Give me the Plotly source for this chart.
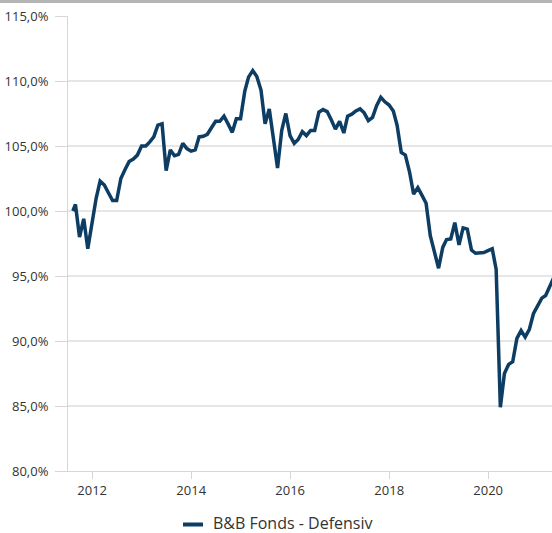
import pandas as pd
import plotly.graph_objects as go

# ---- data ----
start_date = ["2011-08-12"]
start_value = [100.0]
month_end_start = "2011-08-31"
values = [
    100.5, 98.0, 99.4, 97.1, 99.2,                       # 2011 Aug-Dec
    101.0, 102.3, 102.0, 101.4, 100.8, 100.8, 102.5, 103.2, 103.8, 104.0, 104.3, 105.0,  # 2012
    105.0, 105.3, 105.7, 106.6, 106.7, 103.1, 104.7, 104.25, 104.35, 105.2, 104.8, 104.6,  # 2013
    104.7, 105.7, 105.75, 105.9, 106.4, 106.9, 106.9, 107.3, 106.7, 106.05, 107.1, 107.1,  # 2014
    109.2, 110.3, 110.8, 110.35, 109.3, 106.7, 107.85, 105.5, 103.3, 106.2, 107.5, 105.8,  # 2015
    105.2, 105.5, 106.1, 105.8, 106.2, 106.2, 107.6, 107.8, 107.65, 107.0, 106.3, 106.9,  # 2016
    106.0, 107.3, 107.45, 107.7, 107.85, 107.55, 106.95, 107.2, 108.1, 108.75, 108.4, 108.15,  # 2017
    107.7, 106.6, 104.5, 104.3, 103.0, 101.3, 101.8, 101.2, 100.6, 98.1, 96.9, 95.6,  # 2018
    97.2, 97.8, 97.85, 99.1, 97.4, 98.7, 98.6, 97.0, 96.75, 96.75, 96.8, 96.95,  # 2019
    97.1, 95.5, 84.9, 87.5, 88.2, 88.4, 90.2, 90.8, 90.3, 90.9, 92.1, 92.7,  # 2020
    93.3, 93.5, 94.3, 94.9,                                # 2021 Jan-Apr
]
series_name = "B&B Fonds - Defensiv"
y_ticks = [80, 85, 90, 95, 100, 105, 110, 115]
y_tick_labels = [f"{v:.1f}".replace(".", ",") + "%" for v in y_ticks]
x_ticks = ["2012-01-01", "2014-01-01", "2016-01-01", "2018-01-01", "2020-01-01"]
x_tick_labels = ["2012", "2014", "2016", "2018", "2020"]

dates = start_date + [d.strftime("%Y-%m-%d") for d in
                      pd.date_range(month_end_start, periods=len(values), freq="ME")]
ys = start_value + values

LINE = "#0d3d63"
TXT = "#333333"
FONT = "'Open Sans', 'Noto Sans', sans-serif"
W, H = 552, 533
ML, MR, MT, MB = 68, 0, 16, 62
PW, PH = W - ML - MR, H - MT - MB


def px_x(x):
    return (x - ML) / PW


def px_y(y):
    return (H - MB - y) / PH


fig = go.Figure()
fig.add_trace(go.Scatter(
    x=dates, y=ys, mode="lines", name=series_name,
    line=dict(color=LINE, width=3.5), showlegend=False,
))

fig.update_layout(
    width=W, height=H,
    margin=dict(l=ML, r=MR, t=MT, b=MB, autoexpand=False),
    paper_bgcolor="white", plot_bgcolor="white",
    font=dict(family=FONT, size=13, color=TXT),
    xaxis=dict(
        type="date", range=["2011-07-07", "2021-04-16"],
        tickvals=x_ticks, ticktext=x_tick_labels,
        showgrid=False, zeroline=False, automargin=False,
        showline=True, linecolor="#d6d6d6", linewidth=1,
        ticks="outside", ticklen=7, tickcolor="#d6d6d6", tickwidth=1,
        tickfont=dict(size=13, color=TXT),
    ),
    yaxis=dict(
        range=[80, 115], tickvals=y_ticks, ticktext=y_tick_labels,
        showgrid=True, gridcolor="#e6e6e6", gridwidth=1.5,
        zeroline=False, automargin=False,
        showline=True, linecolor="#d6d6d6", linewidth=1,
        ticks="outside", ticklen=12, tickcolor="#d6d6d6", tickwidth=1,
        ticklabelstandoff=4,
        tickfont=dict(size=13, color=TXT),
    ),
    shapes=[
        dict(type="rect", xref="paper", yref="paper",
             x0=px_x(0), x1=px_x(W), y0=px_y(3), y1=px_y(0),
             fillcolor="#b4b4b4", line=dict(width=0), layer="above"),
        # legend key
        dict(type="line", xref="paper", yref="paper",
             x0=px_x(183), x1=px_x(203), y0=px_y(524.5), y1=px_y(524.5),
             line=dict(color=LINE, width=4)),
    ],
    annotations=[
        dict(text=series_name, xref="paper", yref="paper",
             x=px_x(212), y=px_y(522.5), xanchor="left", yanchor="middle",
             borderpad=0,
             showarrow=False, font=dict(size=16, color=TXT, family=FONT)),
    ],
)

fig.write_html("out.html", config={"displayModeBar": False},
               post_script="document.body.style.margin='0';")
